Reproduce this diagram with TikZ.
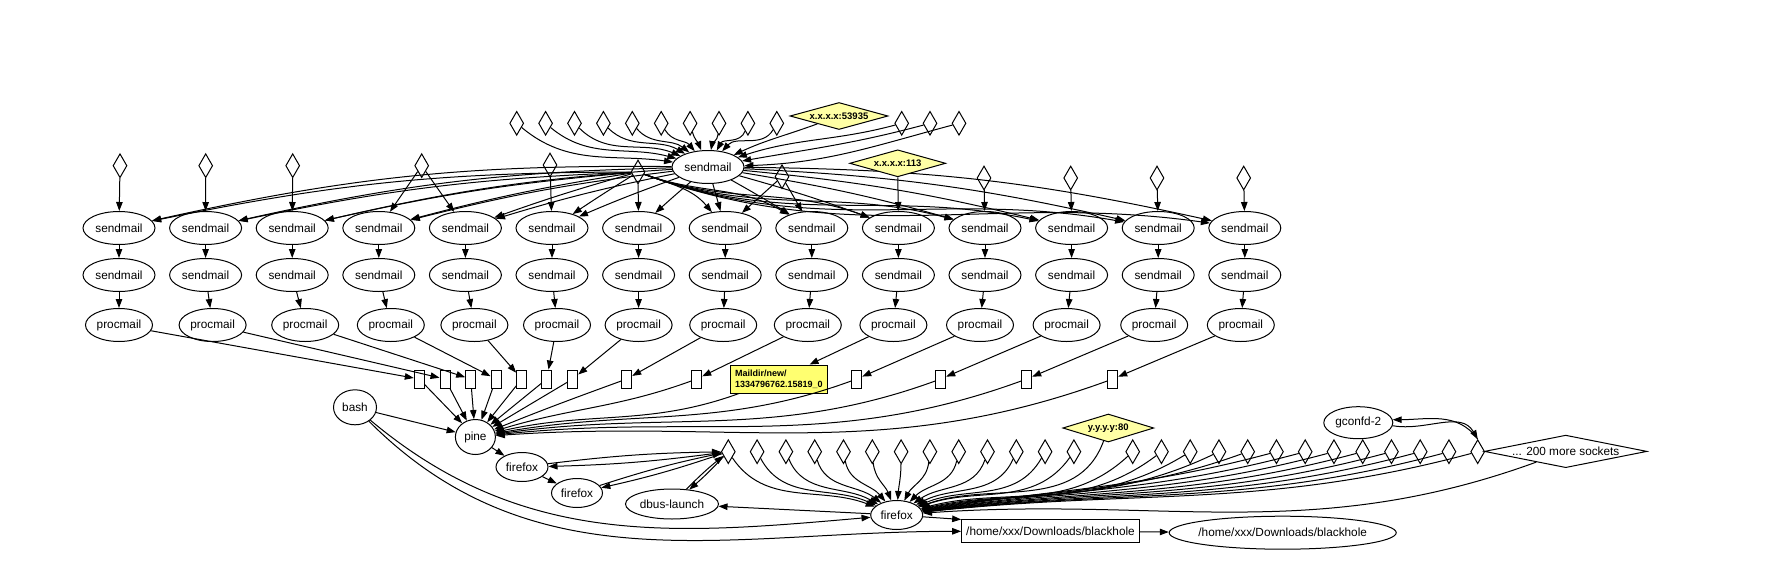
\documentclass[tikz,border=0pt]{standalone}
\usepackage{fontspec}
\setmainfont{Liberation Sans}
\usetikzlibrary{positioning,arrows.meta,shapes.geometric}

\definecolor{sockyellow}{RGB}{255,255,165}
\definecolor{fileyellow}{RGB}{255,255,112}

\begin{document}
\begin{tikzpicture}[x=1pt,y=1pt,line width=1pt,
    every node/.style={font=\fontsize{11.8}{13}\selectfont},
    proc/.style={draw,ellipse,inner sep=0pt,minimum width=72pt,minimum height=33pt},
    sock/.style={draw,diamond,inner sep=0pt,minimum width=14pt,minimum height=24pt},
    ysock/.style={draw,diamond,aspect=3.5,inner sep=1pt,fill=sockyellow,
        font=\bfseries\fontsize{9.5}{11}\selectfont,minimum width=96pt,minimum height=27pt},
    file/.style={draw,rectangle,inner sep=0pt,minimum width=10pt,minimum height=18pt},
    mdir/.style={draw,rectangle,fill=fileyellow,align=left,inner xsep=4pt,inner ysep=3pt,
        font=\bfseries\fontsize{9}{11}\selectfont,minimum width=97pt,minimum height=28pt},
    edge/.style={-{Triangle[length=9pt,width=6.5pt]},line width=1pt}]

    \useasboundingbox (0,0) rectangle (1792,-568);

    %% master sendmail and the sockets feeding it
    \node[proc] (smd) at (708,-167) {sendmail};
    \node[sock] (hub) at (638,-172) {};
    \foreach \i in {0,...,9} {
        \pgfmathsetmacro\x{516.7+28.9*\i}
        \node[sock] (t\i) at (\x,-123.3) {};
    }
    \node[ysock,minimum width=98pt] (xa) at (839,-116) {x.x.x.x:53935};
    \foreach \i/\x in {0/901.7,1/930,2/959} \node[sock] (r\i) at (\x,-123.3) {};

    \foreach \i/\oa/\ia in {0/-40/172,1/-40/165,2/-45/158,3/-45/150,4/-50/142,
        5/-60/130,6/-75/112,7/-95/80,8/-110/62,9/-120/48}
        \draw[edge] (t\i) to[out=\oa,in=\ia] (smd);
    \draw[edge] (xa) to[out=200,in=25] (smd);
    \foreach \i/\ia in {0/18,1/10,2/2} \draw[edge] (r\i) to[out=195,in=\ia] (smd);

    %% children: sendmail -> sendmail -> procmail
    \foreach \i/\sh in {0/0,1/7,2/13,3/12,4/9,5/5,6/0,7/-2,8/-4,9/-5,10/-5,11/-5,12/-4,13/-4} {
        \pgfmathsetmacro\x{119+86.6*\i}
        \pgfmathsetmacro\px{\x+\sh}
        \node[proc] (sa\i) at (\x,-228) {sendmail};
        \node[proc] (sb\i) at (\x,-275) {sendmail};
        \node[proc,minimum width=67pt] (pm\i) at (\px,-325) {procmail};
        \draw[edge] (sa\i) -- (sb\i);
        \draw[edge] (sb\i) -- (pm\i);
        \pgfmathsetmacro\bm{(\x-708)/90}
        \draw[edge] (smd) to[bend left=\bm] (sa\i);
    }
    \foreach \i in {0,...,6} {
        \pgfmathsetmacro\bh{(119+86.6*\i-638)/90}
        \draw[edge] (hub) to[bend left=\bh] (sa\i);
    }
    \foreach \i/\ia in {7/130,8/150,9/160,10/165,11/168,12/170,13/172}
        \draw[edge] (hub) to[out=-20,in=\ia] (sa\i);

    %% sockets of the children
    \foreach \n/\x/\y in {a0/120/165.7,a1/205.7/165.7,a2/292.7/165.7,a3/421.7/165.7,
        a5/550/165,a7/782/176.7,a10/984/178,a11/1070.7/178,a12/1157/178,a13/1243.7/178}
        \node[sock] (\n) at (\x,-\y) {};
    \node[ysock] (xb) at (897.7,-163.3) {x.x.x.x:113};
    \foreach \s/\t in {a0/sa0,a1/sa1,a2/sa2,a3/sa3,a3/sa4,a5/sa5,a7/sa7,a7/sa8,
        xb/sa9,a10/sa10,a11/sa11,a12/sa12,a13/sa13}
        \draw[edge] (\s) -- (\t);

    %% delivered files
    \foreach \i/\x in {0/419.3,1/445,2/470.7,3/496,4/521.7,5/546.7,6/572.7,7/626.7,
        8/696.7,10/856.7,11/940.7,12/1026.7,13/1112.7}
        \node[file] (f\i) at (\x,-379) {};
    \node[mdir] (f9) at (778.8,-379) {Maildir/new/\\1334796762.15819\_0};
    \foreach \i in {0,...,13} \draw[edge] (pm\i) -- (f\i);

    %% reader side
    \node[proc,minimum width=43pt,minimum height=35pt] (bash) at (355,-407.3) {bash};
    \node[proc,minimum width=40pt,minimum height=35pt] (pine) at (475.4,-437) {pine};
    \node[proc,minimum width=52pt,minimum height=29pt] (ffa) at (522,-467) {firefox};
    \node[proc,minimum width=51pt,minimum height=29pt] (ffb) at (577,-493) {firefox};
    \node[proc,minimum width=93pt,minimum height=30pt] (dbus) at (672,-504) {dbus-launch};
    \node[proc,minimum width=52pt,minimum height=29pt] (ffm) at (896.7,-515) {firefox};
    \node[proc,minimum width=69pt,minimum height=32pt] (gconf) at (1358.3,-422.7) {gconfd-2};
    \node[draw,inner sep=0pt,minimum width=177.7pt,minimum height=22.7pt] (bhf) at (1050.5,-531.3)
        {/home/xxx/Downloads/blackhole};
    \node[proc,inner xsep=-4pt,minimum height=33pt] (bhn) at (1282.7,-532.7)
        {/home/xxx/Downloads/blackhole};

    \foreach \i in {0,...,6} \draw[edge] (f\i) -- (pine);
    \foreach \i/\ia in {7/22,8/17,9/13,10/10,11/8,12/6,13/4}
        \draw[edge] (f\i) to[out=200,in=\ia] (pine);

    \draw[edge] (bash) -- (pine);
    \draw[edge] (bash) to[out=-40,in=185] (ffm);
    \draw[edge] (bash) to[out=-45,in=180] (bhf);
    \draw[edge] (pine) -- (ffa);
    \draw[edge] (ffa) -- (ffb);

    %% firefox sockets
    \foreach \i in {0,...,12} {
        \pgfmathsetmacro\x{728.3+28.8*\i}
        \node[sock] (b\i) at (\x,-451.7) {};
        \pgfmathsetmacro\ia{atan2(63.3,\x-896.7)}
        \pgfmathsetmacro\oa{max(-165,min(-40,-90-(\x-896.7)/5))}
        \draw[edge] (b\i) to[out=\oa,in=\ia] (ffm);
    }
    \foreach \i in {0,...,12} {
        \pgfmathsetmacro\x{1132.7+28.75*\i}
        \node[sock] (c\i) at (\x,-451.7) {};
        \pgfmathsetmacro\ia{atan2(63.3,\x-896.7)}
        \pgfmathsetmacro\oa{max(-165,min(-40,-90-(\x-896.7)/5))}
        \draw[edge] (c\i) to[out=\oa,in=\ia] (ffm);
    }
    \node[ysock,minimum width=91pt,minimum height=28pt] (yb) at (1108.3,-428) {y.y.y.y:80};
    \node[sock,aspect=5,inner sep=1pt,minimum width=151pt,minimum height=31pt] (more)
        at (1565.7,-451.4) {... 200 more sockets};
    \draw[edge] (yb) to[out=-110,in=20] (ffm);
    \draw[edge] (more) to[out=200,in=4] (ffm);

    \foreach \n in {ffa,ffb,dbus} {
        \draw[edge] (\n) to[bend left=3] (b0);
        \draw[edge] (b0) to[bend left=3] (\n);
    }
    \draw[edge] (ffm) -- (dbus);
    \draw[edge] (gconf.-5) to[out=-10,in=120] (c12.north);
    \draw[edge] (c12.north) to[out=125,in=0] (gconf.5);
    \draw[edge] (ffm) -- (bhf.north west);
    \draw[edge] (bhf) -- (bhn);
\end{tikzpicture}
\end{document}
